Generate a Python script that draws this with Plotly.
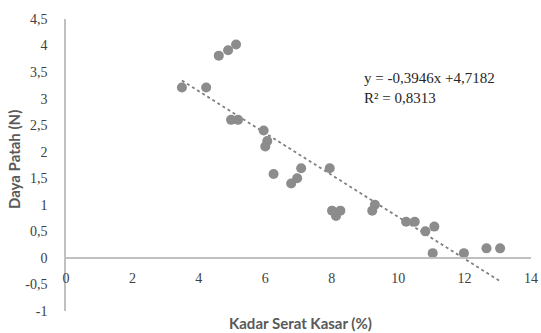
import plotly.graph_objects as go

# Data
kadar_serat = [3.49, 4.22, 4.60, 4.88, 5.12, 4.97, 5.18, 5.95, 6.0, 6.06,
               6.25, 6.78, 6.96, 7.08, 7.94, 8.01, 8.13, 8.26, 9.22, 9.30,
               10.24, 10.5, 10.82, 11.09, 11.04, 11.98, 12.66, 13.07]
daya_patah = [3.21, 3.21, 3.81, 3.91, 4.02, 2.60, 2.60, 2.40, 2.10, 2.20,
              1.58, 1.40, 1.50, 1.69, 1.69, 0.89, 0.79, 0.89, 0.89, 1.0,
              0.68, 0.68, 0.50, 0.59, 0.09, 0.09, 0.18, 0.18]

slope = -0.3946
intercept = 4.7182

x_tickvals = [0, 2, 4, 6, 8, 10, 12, 14]
x_ticktext = ["0", "2", "4", "6", "8", "10", "12", "14"]
y_tickvals = [-1, -0.5, 0, 0.5, 1, 1.5, 2, 2.5, 3, 3.5, 4, 4.5]
y_ticktext = ["-1", "-0,5", "0", "0,5", "1", "1,5", "2", "2,5", "3", "3,5", "4", "4,5"]

x_min, x_max = min(kadar_serat), max(kadar_serat)
trend_x = [x_min, x_max]
trend_y = [slope * v + intercept for v in trend_x]

fig = go.Figure()
fig.add_trace(go.Scatter(
    x=trend_x, y=trend_y, mode="lines",
    line=dict(color="#808080", width=1.8, dash="dot"),
    showlegend=False, hoverinfo="skip"))
fig.add_trace(go.Scatter(
    x=kadar_serat, y=daya_patah, mode="markers",
    marker=dict(color="#8c8c8c", size=10, line=dict(width=0)),
    showlegend=False))

serif = "Liberation Serif, DejaVu Serif, serif"
sans = "Lato, Open Sans, sans-serif"

L, R, T, B = 66, 10, 19, 22
W, H = 541, 333

fig.update_layout(
    width=W, height=H,
    margin=dict(l=L, r=R, t=T, b=B, autoexpand=False),
    plot_bgcolor="white", paper_bgcolor="white",
    xaxis=dict(
        range=[0, 14], tickvals=x_tickvals, ticktext=x_ticktext,
        showgrid=False, zeroline=False, automargin=False,
        showline=True, linecolor="#c0c0c0", linewidth=1.5,
        anchor="free", position=1/5.5,
        ticks="outside", ticklen=8, tickcolor="rgba(0,0,0,0)",
        tickfont=dict(family=serif, size=14, color="#404040"),
    ),
    yaxis=dict(
        range=[-1, 4.5], tickvals=y_tickvals, ticktext=y_ticktext,
        showgrid=False, zeroline=False, automargin=False,
        showline=True, linecolor="#c0c0c0", linewidth=1.5,
        ticks="outside", ticklen=14, tickcolor="rgba(0,0,0,0)",
        tickfont=dict(family=serif, size=14, color="#404040"),
        domain=[0, 1],
    ),
)

pw = W - L - R
ph = H - T - B
def px_to_paper(px, py):
    return (px - L) / pw, 1 - (py - T) / ph

ax, ay = px_to_paper(362, 88)
bx, by = px_to_paper(300, 323)
cx, cy = px_to_paper(14, 160)

fig.update_layout(annotations=[
    dict(text="y = -0,3946x +4,7182<br>R² = 0,8313", x=ax, y=ay,
         xref="paper", yref="paper", showarrow=False, align="left",
         xanchor="left", yanchor="middle",
         font=dict(family=serif, size=15, color="#262626")),
    dict(text="<b>Kadar Serat Kasar (%)</b>", x=bx, y=by,
         xref="paper", yref="paper", showarrow=False,
         xanchor="center", yanchor="middle",
         font=dict(family=sans, size=15, color="#595959")),
    dict(text="<b>Daya Patah (N)</b>", x=cx, y=cy,
         xref="paper", yref="paper", showarrow=False, textangle=-90,
         xanchor="center", yanchor="middle",
         font=dict(family=sans, size=15, color="#595959")),
])

fig.write_html("out.html")
